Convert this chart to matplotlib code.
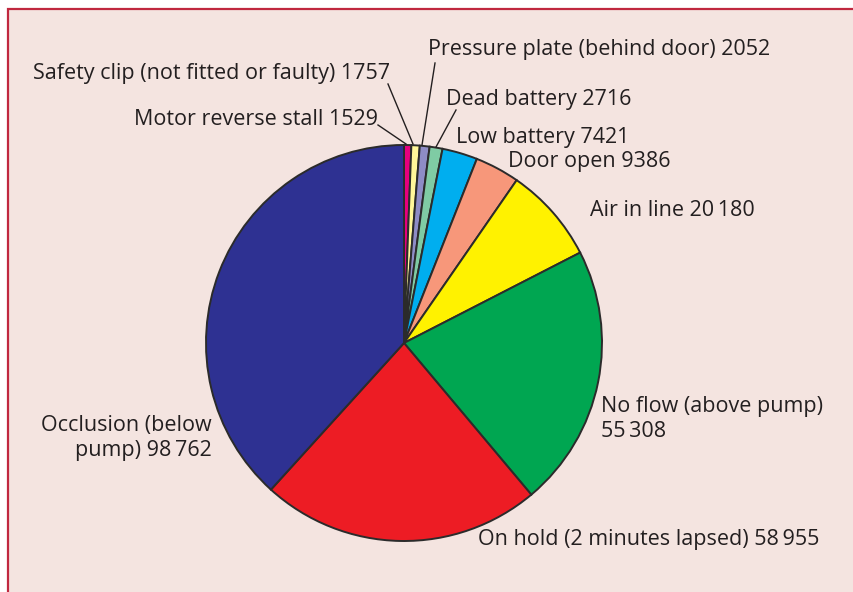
import matplotlib
matplotlib.use("Agg")
import matplotlib.pyplot as plt
from matplotlib.patches import Rectangle

categories = ["Motor reverse stall", "Safety clip (not fitted or faulty)",
              "Pressure plate (behind door)", "Dead battery", "Low battery",
              "Door open", "Air in line", "No flow (above pump)",
              "On hold (2 minutes lapsed)", "Occlusion (below pump)"]
values = [1529, 1757, 2052, 2716, 7421, 9386, 20180, 55308, 58955, 98762]
value_labels = ["1529", "1757", "2052", "2716", "7421", "9386", "20\u2009180",
                "55\u2009308", "58\u2009955", "98\u2009762"]
colors = ["#e6007e", "#fff799", "#8e8cc6", "#7fcba4", "#00aeef",
          "#f7977a", "#fff200", "#00a651", "#ed1c24", "#2e3192"]

W, H = 854, 592
fig = plt.figure(figsize=(W / 100, H / 100), dpi=100)
fig.patch.set_facecolor("white")
ax = fig.add_axes([0, 0, 1, 1])

def py(y):
    return H - y

ax.add_patch(Rectangle((8, -10), 900, py(9) + 10, facecolor="#f4e4e0",
                       edgecolor="#c0283f", linewidth=1.6, zorder=0))

cx, cy, r = 404, py(343), 198
ax.pie(values, colors=colors, startangle=90, counterclock=False,
       center=(cx, cy), radius=r,
       wedgeprops=dict(edgecolor="#2b2b2b", linewidth=1.4))

ax.set_xlim(0, W)
ax.set_ylim(0, H)
ax.set_aspect("equal")
ax.axis("off")

font = dict(family=["Open Sans", "DejaVu Sans"], fontsize=15.5, color="#231f20")

# text entries: (index, x, y, ha, custom text)
texts = [
    (0, 378, 120, "right", None),
    (1, 390, 74, "right", None),
    (2, 428, 50, "left", None),
    (3, 446, 100, "left", None),
    (4, 456, 138, "left", None),
    (5, 508, 162, "left", None),
    (6, 590, 211, "left", None),
    (7, 601, 419, "left", f"No flow (above pump)\n{value_labels[7]}"),
    (8, 478, 540, "left", None),
    (9, 212, 438, "right", f"Occlusion (below\npump) {value_labels[9]}"),
]
for i, x, y, ha, custom in texts:
    t = custom if custom is not None else f"{categories[i]} {value_labels[i]}"
    ax.text(x, py(y), t, ha=ha, va="center", linespacing=1.2,
            multialignment=ha, **font)

# leader lines (pixel coords)
leaders = [
    ((378, 125), (406, 144)),
    ((388, 84), (413, 144)),
    ((435, 63), (422, 145)),
    ((456, 110), (436, 147)),
]
for (x0, y0), (x1, y1) in leaders:
    ax.plot([x0, x1], [py(y0), py(y1)], color="#231f20", linewidth=1.0)

fig.savefig("out.png", dpi=100, facecolor=fig.get_facecolor())
